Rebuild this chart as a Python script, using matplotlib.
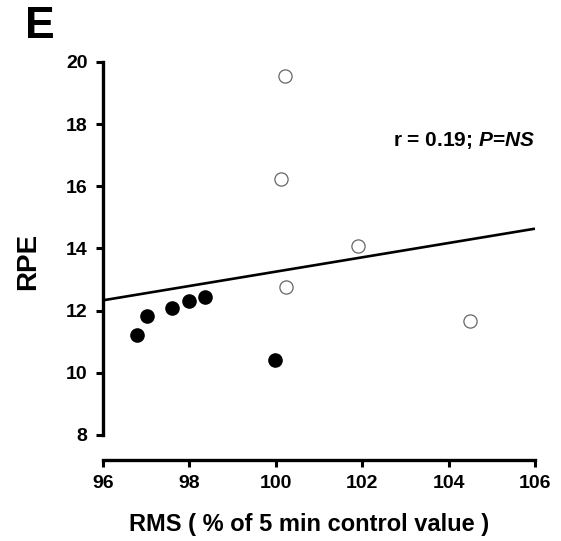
import matplotlib
matplotlib.use("Agg")
import matplotlib.pyplot as plt
import numpy as np

plt.rcParams["font.family"] = ["Liberation Sans", "DejaVu Sans"]
plt.rcParams["mathtext.fontset"] = "custom"
plt.rcParams["mathtext.it"] = "Liberation Sans:italic:bold"
plt.rcParams["mathtext.rm"] = "Liberation Sans:bold"

# RMS (% of 5 min control) vs RPE
rms_filled = [96.79, 97.03, 97.60, 97.98, 98.37, 99.98]
rpe_filled = [11.22, 11.83, 12.09, 12.32, 12.43, 10.41]
rms_open = [100.21, 100.11, 101.91, 100.23, 104.50]
rpe_open = [19.55, 16.22, 14.08, 12.75, 11.67]

x_ticks = [96, 98, 100, 102, 104, 106]
y_ticks = [8, 10, 12, 14, 16, 18, 20]

fig = plt.figure(figsize=(5.61, 5.41), dpi=100)
ax = fig.add_axes([0.1836, 0.196, 0.770, 0.6895])

# least-squares line through all points
all_x = np.array(rms_filled + rms_open)
all_y = np.array(rpe_filled + rpe_open)
slope, icpt = np.polyfit(all_x, all_y, 1)
xl = np.array([x_ticks[0], x_ticks[-1]])
ax.plot(xl, slope * xl + icpt, color="black", lw=1.9, zorder=2, solid_capstyle="butt")

ax.plot(rms_filled, rpe_filled, "o", ms=9.5, color="black", mec="black", zorder=3)
ax.plot(rms_open, rpe_open, "o", ms=9.5, mfc="white", mec="#666666", mew=0.9, zorder=3)

ax.set_xlim(96, 106)
ax.set_ylim(8, 20)
ax.set_xticks(x_ticks)
ax.set_yticks(y_ticks)

for side in ("top", "right"):
    ax.spines[side].set_visible(False)
ax.spines["bottom"].set_position(("outward", 18))
for side in ("left", "bottom"):
    ax.spines[side].set_linewidth(2.4)
ax.tick_params(direction="out", length=5, width=2.2, labelsize=14, pad=6)
for lbl in ax.get_xticklabels() + ax.get_yticklabels():
    lbl.set_fontweight("bold")

ax.set_ylabel("RPE", fontsize=20, fontweight="bold")
ax.yaxis.set_label_coords(-0.143, 0.465)
ax.set_xlabel("RMS ( % of 5 min control value )", fontsize=17, fontweight="bold")
ax.xaxis.set_label_coords(0.478, -0.21)

ax.text(1.0, 0.79, r"r = 0.19; $P$=$NS$", transform=ax.transAxes,
        ha="right", va="center", fontsize=15, fontweight="bold")

fig.text(0.045, 0.951, "E", fontsize=32, fontweight="bold", ha="left", va="center")

fig.savefig("out.png", dpi=100)
